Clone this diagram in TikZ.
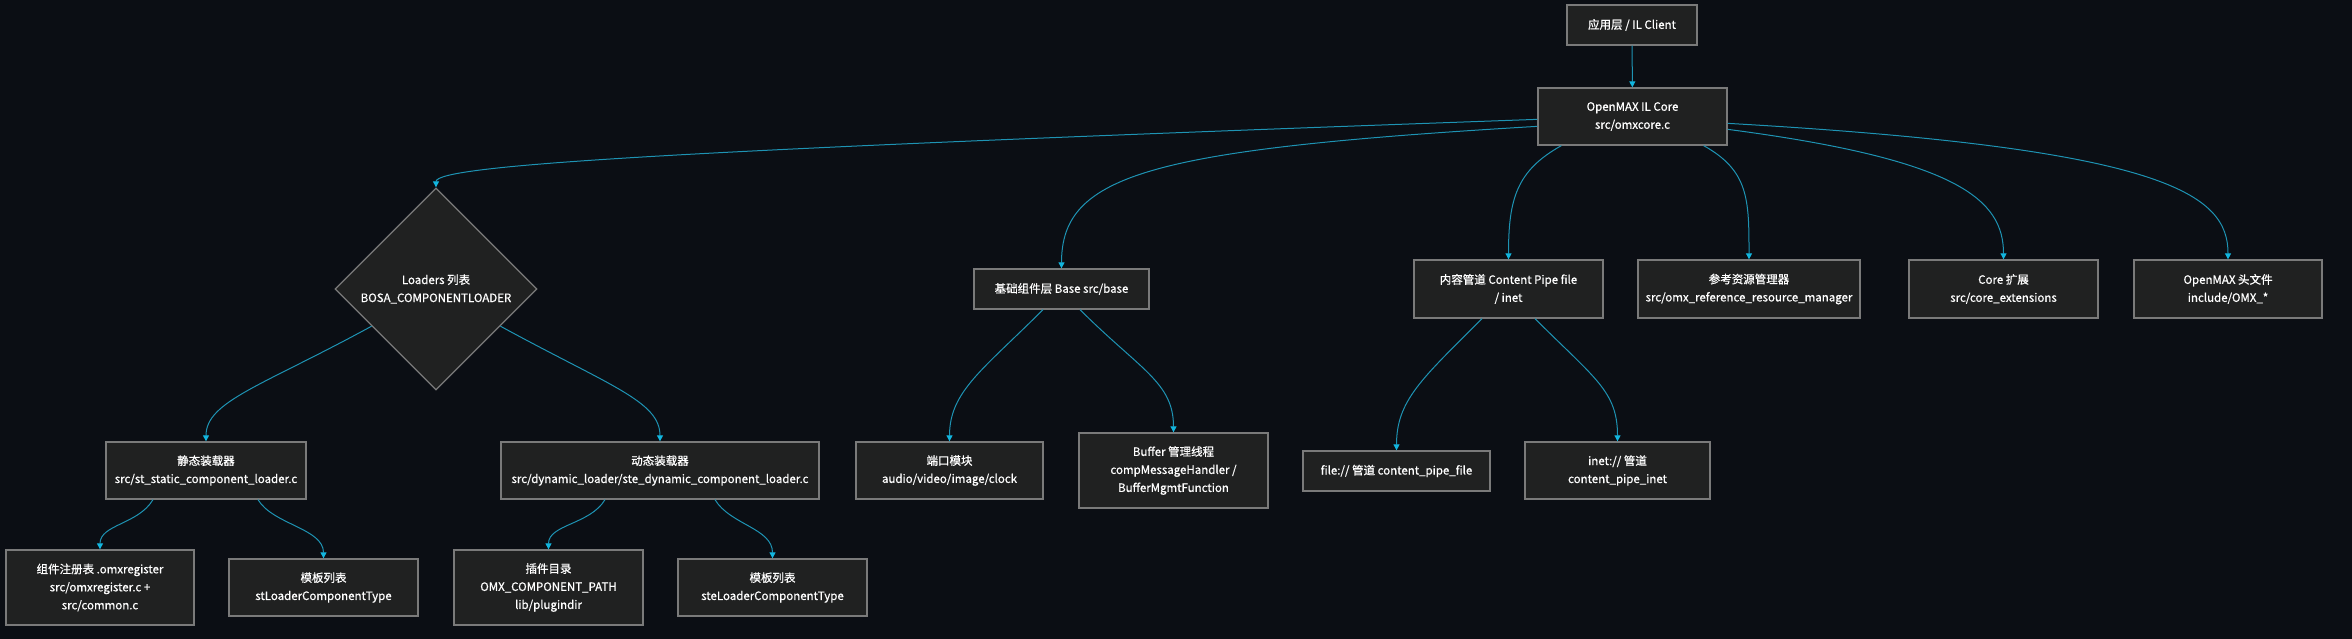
\documentclass[tikz,border=0pt]{standalone}
\usepackage{fontspec}
\setmainfont{Noto Sans CJK SC}[FakeBold=0.7]
\usetikzlibrary{shapes.geometric,arrows.meta}
\definecolor{bg}{HTML}{0B0E14}
\definecolor{nodefill}{HTML}{202121}
\definecolor{nodeborder}{HTML}{7A7A7A}
\definecolor{edgec}{HTML}{1E93B3}
\definecolor{tipc}{HTML}{12B5DE}
\begin{document}
\begin{tikzpicture}[x=1pt,y=-1pt,
  box/.style={draw=nodeborder, fill=nodefill, line width=1.3pt, text=white,
    font=\fontsize{11.5}{18}\selectfont, align=center, inner sep=0pt},
  dia/.style={box, diamond, minimum width=202pt, minimum height=202pt},
  edge/.style={draw=edgec, line width=1pt, -{Triangle[length=6pt,width=6pt,color=tipc,fill=tipc]}}
]
\fill[bg] (0,0) rectangle (2352,639);
\useasboundingbox (0,0) rectangle (2352,639);

% top
\node[box, minimum width=130pt, minimum height=40pt] (app) at (1632,25) {应用层 / IL Client};
\node[box, minimum width=189pt, minimum height=57pt] (core) at (1632.5,116.5) {OpenMAX IL Core\\src/omxcore.c};

% second row
\node[dia] (loaders) at (436,289) {Loaders 列表\\BOSA\_COMPONENTLOADER};
\node[box, minimum width=175pt, minimum height=40pt] (base) at (1061.5,289) {基础组件层 Base src/base};
\node[box, minimum width=189pt, minimum height=58pt] (content) at (1508.5,289) {内容管道 Content Pipe file\\/ inet};
\node[box, minimum width=222pt, minimum height=58pt] (refres) at (1749,289) {参考资源管理器\\src/omx\_reference\_resource\_manager};
\node[box, minimum width=189pt, minimum height=58pt] (coreext) at (2003.5,289) {Core 扩展\\src/core\_extensions};
\node[box, minimum width=188pt, minimum height=58pt] (headers) at (2228,289) {OpenMAX 头文件\\include/OMX\_*};

% third row
\node[box, minimum width=200pt, minimum height=57pt] (static) at (206,470.5) {静态装载器\\src/st\_static\_component\_loader.c};
\node[box, minimum width=318pt, minimum height=57pt] (dynamic) at (660,470.5) {动态装载器\\src/dynamic\_loader/ste\_dynamic\_component\_loader.c};
\node[box, minimum width=187pt, minimum height=57pt] (ports) at (949.5,470.5) {端口模块\\audio/video/image/clock};
\node[box, minimum width=189pt, minimum height=75pt] (buffer) at (1173.5,470.5) {Buffer 管理线程\\compMessageHandler /\\BufferMgmtFunction};
\node[box, minimum width=187pt, minimum height=40pt] (file) at (1396.5,471) {file:// 管道 content\_pipe\_file};
\node[box, minimum width=185pt, minimum height=57pt] (inet) at (1617.5,470.5) {inet:// 管道\\content\_pipe\_inet};

% bottom row
\node[box, minimum width=188pt, minimum height=75pt] (register) at (100,587.5) {组件注册表 .omxregister\\src/omxregister.c +\\src/common.c};
\node[box, minimum width=189pt, minimum height=57pt] (stlist) at (323.5,587.5) {模板列表\\stLoaderComponentType};
\node[box, minimum width=189pt, minimum height=75pt] (plugin) at (548.5,587.5) {插件目录\\OMX\_COMPONENT\_PATH\\lib/plugindir};
\node[box, minimum width=189pt, minimum height=57pt] (stelist) at (772.5,587.5) {模板列表\\steLoaderComponentType};

% edges
\draw[edge] (app) -- (core);
\draw[edge] ([yshift=-32pt]core.north west) .. controls +(-838,30) and +(0,-23) .. (loaders.north);
\draw[edge] ([yshift=-39pt]core.north west) .. controls +(-388,23) and +(0,-94) .. (base.north);
\draw[edge] ([xshift=24pt]core.south west) .. controls +(-45,25) and +(0,-60) .. (content.north);
\draw[edge] ([xshift=-24pt]core.south east) .. controls +(45,25) and +(0,-60) .. (refres.north);
\draw[edge] ([yshift=-42pt]core.north east) .. controls +(230,30) and +(0,-60) .. (coreext.north);
\draw[edge] ([yshift=-36pt]core.north east) .. controls +(440,25) and +(0,-65) .. (headers.north);

\draw[edge] (loaders.210) .. controls +(-110,60) and +(0,-40) .. (static.north);
\draw[edge] (loaders.330) .. controls +(110,60) and +(0,-40) .. (dynamic.north);

\draw[edge] ([xshift=-53pt]static.south) .. controls +(-15,25) and +(0,-25) .. (register.north);
\draw[edge] ([xshift=52pt]static.south) .. controls +(15,25) and +(0,-30) .. (stlist.north);
\draw[edge] ([xshift=-55pt]dynamic.south) .. controls +(-15,25) and +(0,-25) .. (plugin.north);
\draw[edge] ([xshift=55pt]dynamic.south) .. controls +(15,25) and +(0,-30) .. (stelist.north);

\draw[edge] ([xshift=-18.5pt]base.south) .. controls +(-60,60) and +(0,-50) .. (ports.north);
\draw[edge] ([xshift=18.5pt]base.south) .. controls +(60,60) and +(0,-50) .. (buffer.north);
\draw[edge] ([xshift=-26.5pt]content.south) .. controls +(-60,60) and +(0,-50) .. (file.north);
\draw[edge] ([xshift=26.5pt]content.south) .. controls +(60,60) and +(0,-50) .. (inet.north);
\end{tikzpicture}
\end{document}
